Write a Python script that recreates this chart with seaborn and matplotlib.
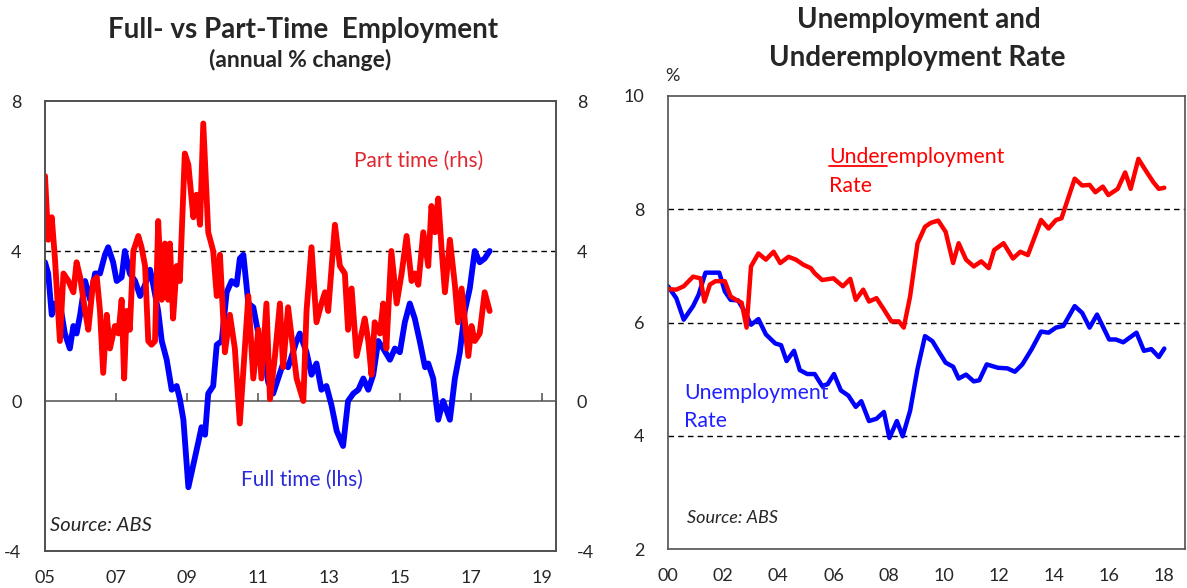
import matplotlib
matplotlib.use("Agg")
import matplotlib.pyplot as plt
from matplotlib.lines import Line2D
import seaborn as sns

# ---- left chart: full- vs part-time employment, annual % change ----
ft_years = [2005.00, 2005.09, 2005.19, 2005.28, 2005.42, 2005.56, 2005.70, 2005.80, 2005.89, 2005.99,
            2006.13, 2006.27, 2006.41, 2006.55, 2006.69, 2006.78, 2006.92, 2007.02, 2007.16, 2007.25,
            2007.39, 2007.54, 2007.68, 2007.82, 2007.96, 2008.05, 2008.19, 2008.29, 2008.43, 2008.57,
            2008.71, 2008.80, 2008.90, 2009.04, 2009.18, 2009.32, 2009.41, 2009.51, 2009.60, 2009.74,
            2009.84, 2009.98, 2010.12, 2010.26, 2010.40, 2010.49, 2010.59, 2010.73, 2010.87, 2011.01,
            2011.15, 2011.29, 2011.43, 2011.57, 2011.71, 2011.85, 2012.09, 2012.18, 2012.37, 2012.51,
            2012.65, 2012.79, 2012.93, 2013.07, 2013.22, 2013.40, 2013.54, 2013.69, 2013.83, 2013.97,
            2014.11, 2014.25, 2014.39, 2014.53, 2014.72, 2014.86, 2015.00, 2015.14, 2015.28, 2015.42,
            2015.56, 2015.71, 2015.80, 2015.94, 2016.08, 2016.22, 2016.41, 2016.55, 2016.69, 2016.83,
            2016.97, 2017.11, 2017.25, 2017.39, 2017.53]
ft_change = [3.7, 3.4, 2.3, 2.6, 2.6, 1.8, 1.4, 2.0, 1.8, 2.3,
             3.2, 2.7, 3.4, 3.4, 3.9, 4.1, 3.7, 3.2, 3.3, 4.0,
             3.4, 3.2, 2.8, 3.1, 3.5, 3.1, 2.4, 1.6, 1.1, 0.3,
             0.4, 0.05, -0.5, -2.3, -1.7, -1.1, -0.7, -0.9, 0.2, 0.4,
             1.5, 1.6, 2.9, 3.2, 3.1, 3.8, 3.9, 2.6, 2.5, 1.8,
             1.4, 0.5, 0.2, 0.6, 1.0, 0.9, 1.6, 1.8, 1.3, 0.7,
             1.0, 0.3, 0.4, -0.1, -0.8, -1.2, 0.0, 0.2, 0.3, 0.6,
             0.3, 0.7, 1.6, 1.4, 1.1, 1.4, 1.3, 2.1, 2.6, 2.2,
             1.6, 0.9, 1.0, 0.6, -0.5, 0.0, -0.5, 0.6, 1.3, 2.4,
             3.0, 4.0, 3.7, 3.8, 4.0]

pt_years = [2005.00, 2005.09, 2005.19, 2005.28, 2005.42, 2005.52, 2005.66, 2005.80, 2005.89, 2005.99,
            2006.13, 2006.22, 2006.36, 2006.46, 2006.55, 2006.64, 2006.74, 2006.83, 2006.97, 2007.07,
            2007.16, 2007.23, 2007.30, 2007.39, 2007.49, 2007.63, 2007.72, 2007.82, 2007.91, 2008.00,
            2008.10, 2008.19, 2008.29, 2008.38, 2008.47, 2008.52, 2008.61, 2008.71, 2008.80, 2008.94,
            2009.04, 2009.18, 2009.27, 2009.37, 2009.46, 2009.60, 2009.74, 2009.84, 2009.93, 2010.07,
            2010.21, 2010.35, 2010.49, 2010.73, 2010.87, 2011.01, 2011.10, 2011.24, 2011.34, 2011.48,
            2011.62, 2011.71, 2011.85, 2012.09, 2012.28, 2012.37, 2012.51, 2012.65, 2012.79, 2012.89,
            2012.98, 2013.17, 2013.31, 2013.45, 2013.54, 2013.64, 2013.78, 2013.92, 2014.01, 2014.11,
            2014.20, 2014.29, 2014.44, 2014.53, 2014.62, 2014.76, 2014.91, 2015.05, 2015.19, 2015.33,
            2015.42, 2015.52, 2015.66, 2015.80, 2015.89, 2015.99, 2016.08, 2016.18, 2016.27, 2016.41,
            2016.55, 2016.64, 2016.74, 2016.93, 2017.02, 2017.11, 2017.25, 2017.39, 2017.53]
pt_change = [6.0, 4.3, 4.9, 3.8, 1.6, 3.4, 3.2, 2.9, 3.7, 3.3,
             2.4, 1.9, 3.2, 3.3, 2.4, 0.75, 2.3, 1.4, 2.0, 1.8,
             2.7, 0.6, 2.4, 1.9, 4.0, 4.4, 4.1, 3.6, 1.6, 1.5,
             1.6, 4.8, 2.7, 4.2, 2.7, 4.2, 2.2, 3.6, 3.2, 6.6,
             6.3, 4.9, 5.5, 4.7, 7.4, 4.5, 4.0, 2.8, 3.9, 1.3,
             2.3, 1.4, -0.6, 2.8, 0.6, 1.9, 0.6, 2.6, 0.05, 1.2,
             2.6, 0.9, 2.5, 0.6, 0.0, 2.4, 4.1, 2.1, 2.6, 2.9,
             2.4, 4.7, 3.6, 3.4, 1.9, 3.0, 1.2, 1.8, 2.2, 1.6,
             0.7, 2.1, 1.8, 2.6, 1.4, 4.0, 2.6, 3.4, 4.4, 3.2,
             3.4, 3.1, 4.5, 3.6, 5.2, 4.5, 5.4, 4.0, 2.9, 4.3,
             3.1, 2.1, 3.0, 1.2, 2.0, 1.6, 1.8, 2.9, 2.4]

left_xticks = [2005, 2007, 2009, 2011, 2013, 2015, 2017, 2019]
left_xlabels = ["05", "07", "09", "11", "13", "15", "17", "19"]
left_yticks = [-4, 0, 4, 8]

# ---- right chart: unemployment and underemployment rate, % ----
under_years = [2000.00, 2000.30, 2000.57, 2000.91, 2001.18, 2001.32, 2001.52, 2001.72, 2002.06, 2002.27,
               2002.47, 2002.67, 2002.85, 2003.01, 2003.28, 2003.55, 2003.83, 2004.07, 2004.37, 2004.64,
               2004.91, 2005.18, 2005.32, 2005.59, 2006.00, 2006.34, 2006.61, 2006.81, 2007.08, 2007.29,
               2007.56, 2007.83, 2008.10, 2008.37, 2008.55, 2008.78, 2009.05, 2009.32, 2009.53, 2009.80,
               2010.07, 2010.34, 2010.54, 2010.81, 2011.09, 2011.36, 2011.63, 2011.83, 2012.17, 2012.51,
               2012.78, 2013.05, 2013.53, 2013.80, 2014.07, 2014.27, 2014.75, 2015.02, 2015.29, 2015.50,
               2015.77, 2015.97, 2016.31, 2016.58, 2016.78, 2017.06, 2017.33, 2017.60, 2017.80, 2018.00]
under_rate = [6.59, 6.58, 6.64, 6.81, 6.78, 6.37, 6.67, 6.73, 6.73, 6.46,
              6.40, 6.35, 5.91, 6.99, 7.22, 7.11, 7.25, 7.05, 7.16, 7.11,
              7.02, 6.96, 6.87, 6.75, 6.78, 6.64, 6.77, 6.40, 6.58, 6.37,
              6.43, 6.23, 6.02, 6.02, 5.91, 6.46, 7.40, 7.69, 7.76, 7.80,
              7.60, 7.05, 7.40, 7.11, 6.99, 7.08, 6.96, 7.28, 7.40, 7.13,
              7.25, 7.19, 7.81, 7.66, 7.81, 7.84, 8.54, 8.42, 8.43, 8.30,
              8.40, 8.25, 8.36, 8.65, 8.36, 8.89, 8.68, 8.48, 8.36, 8.38]

unemp_years = [2000.00, 2000.30, 2000.57, 2000.91, 2001.11, 2001.36, 2001.66, 2001.86, 2002.06, 2002.27,
               2002.54, 2002.81, 2003.01, 2003.28, 2003.55, 2003.89, 2004.10, 2004.30, 2004.57, 2004.78,
               2005.05, 2005.32, 2005.59, 2005.79, 2006.02, 2006.27, 2006.54, 2006.81, 2007.01, 2007.29,
               2007.56, 2007.83, 2008.03, 2008.30, 2008.51, 2008.78, 2009.05, 2009.32, 2009.59, 2009.80,
               2010.07, 2010.34, 2010.54, 2010.81, 2011.09, 2011.29, 2011.56, 2011.97, 2012.31, 2012.58,
               2012.85, 2013.19, 2013.53, 2013.80, 2014.07, 2014.34, 2014.75, 2015.02, 2015.29, 2015.56,
               2016.00, 2016.24, 2016.51, 2016.99, 2017.26, 2017.53, 2017.80, 2018.00]
unemp_rate = [6.64, 6.43, 6.05, 6.29, 6.49, 6.88, 6.88, 6.88, 6.55, 6.40,
              6.39, 6.17, 5.96, 6.06, 5.79, 5.63, 5.60, 5.32, 5.50, 5.16,
              5.09, 5.09, 4.88, 4.91, 5.09, 4.80, 4.71, 4.51, 4.61, 4.26,
              4.30, 4.42, 3.96, 4.26, 3.99, 4.44, 5.18, 5.76, 5.67, 5.50,
              5.29, 5.22, 5.01, 5.08, 4.96, 4.98, 5.26, 5.20, 5.19, 5.13,
              5.26, 5.53, 5.84, 5.82, 5.91, 5.94, 6.29, 6.17, 5.91, 6.14,
              5.70, 5.70, 5.65, 5.82, 5.50, 5.53, 5.39, 5.54]

right_xticks = [2000, 2002, 2004, 2006, 2008, 2010, 2012, 2014, 2016, 2018]
right_xlabels = ["00", "02", "04", "06", "08", "10", "12", "14", "16", "18"]
right_yticks = [2, 4, 6, 8, 10]

sns.set_style("white")
plt.rcParams["font.family"] = ["Lato", "DejaVu Sans"]
plt.rcParams["axes.unicode_minus"] = False

RED = "#ff0000"
BLUE = "#0000ff"
FRAME = "#505050"
TICKFONT = 13

W, H = 1187, 588
fig = plt.figure(figsize=(W / 100, H / 100), dpi=100)


def frame(ax):
    for s in ax.spines.values():
        s.set_visible(True)
        s.set_color(FRAME)
        s.set_linewidth(1.2)


# ---------------- left panel ----------------
ax1 = fig.add_axes([45 / W, (H - 551) / H, (556 - 45) / W, (551 - 101) / H])
ax1r = ax1.twinx()

sns.lineplot(x=ft_years, y=ft_change, ax=ax1, color=BLUE, linewidth=4.2)
sns.lineplot(x=pt_years, y=pt_change, ax=ax1r, color=RED, linewidth=4.2)

for a in (ax1, ax1r):
    a.set_xlim(2005, 2019.4)
    a.set_ylim(-4, 8)
    a.set_yticks(left_yticks)
    a.set_ylabel("")
    frame(a)
ax1.set_xticks(left_xticks)
ax1.set_xticklabels(left_xlabels)
ax1.tick_params(axis="x", length=0, pad=14, labelsize=TICKFONT)
ax1.tick_params(axis="y", length=0, pad=17, labelsize=TICKFONT)
ax1r.tick_params(axis="y", length=0, pad=15, labelsize=TICKFONT)
ax1.axhline(0, color=FRAME, linewidth=1.1, zorder=1)
ax1.axhline(4, color="black", linewidth=1.0, linestyle=(0, (4, 3)), zorder=1)

# tick marks sitting on the zero line
zero_axis = ax1.secondary_xaxis(1 / 3)
zero_axis.set_xticks(left_xticks)
zero_axis.tick_params(axis="x", direction="in", length=6, width=1.1, color=FRAME, labelbottom=False, labeltop=False)
zero_axis.spines["bottom"].set_visible(False)
zero_axis.spines["top"].set_visible(False)

ax1r.text(0.732, 0.866, "Part time (rhs)", transform=ax1.transAxes, color="#e0262e",
          fontsize=15, ha="center", va="center")
ax1r.text(0.502, 0.158, "Full time (lhs)", transform=ax1.transAxes, color="#2a2ad8",
          fontsize=15, ha="center", va="center")
ax1r.text(0.01, 0.056, "Source: ABS", transform=ax1.transAxes, fontsize=14.5,
          style="italic", ha="left", va="center")

fig.text(303 / W, 1 - 30 / H, "Full- vs Part-Time  Employment", ha="center", va="center",
         fontsize=20, fontweight="bold")
fig.text(300 / W, 1 - 60 / H, "(annual % change)", ha="center", va="center",
         fontsize=16.5, fontweight="bold")

# ---------------- right panel ----------------
ax2 = fig.add_axes([668 / W, (H - 549) / H, (1185 - 668) / W, (549 - 96) / H])
sns.lineplot(x=unemp_years, y=unemp_rate, ax=ax2, color=BLUE, linewidth=3.2)
sns.lineplot(x=under_years, y=under_rate, ax=ax2, color=RED, linewidth=3.2)
ax2.set_xlim(2000, 2018.75)
ax2.set_ylim(2, 10)
ax2.set_xticks(right_xticks)
ax2.set_xticklabels(right_xlabels)
ax2.set_yticks(right_yticks)
ax2.tick_params(axis="x", direction="in", length=6, width=1.1, color=FRAME, pad=14, labelsize=TICKFONT)
ax2.tick_params(axis="y", length=0, pad=17, labelsize=TICKFONT)
for lvl in (4, 6, 8):
    ax2.axhline(lvl, color="black", linewidth=1.0, linestyle=(0, (4, 3)), zorder=1)
frame(ax2)

ax2.text(0.311, 0.865, "Underemployment", transform=ax2.transAxes, color=RED,
         fontsize=15.3, ha="left", va="center")
ax2.text(0.311, 0.801, "Rate", transform=ax2.transAxes, color=RED,
         fontsize=15.3, ha="left", va="center")
under_part = ax2.text(0.311, 0.865, "Under", transform=ax2.transAxes, color=RED,
                      fontsize=15.3, ha="left", va="center", alpha=0)
ax2.text(0.031, 0.344, "Unemployment", transform=ax2.transAxes, color="#2020ff",
         fontsize=15.3, ha="left", va="center")
ax2.text(0.031, 0.283, "Rate", transform=ax2.transAxes, color="#2020ff",
         fontsize=15.3, ha="left", va="center")
ax2.text(0.037, 0.068, "Source: ABS", transform=ax2.transAxes, fontsize=13,
         style="italic", ha="left", va="center")

fig.text(672 / W, 1 - 76 / H, "%", ha="center", va="center", fontsize=TICKFONT)
fig.text(919 / W, 1 - 20 / H, "Unemployment and", ha="center", va="center",
         fontsize=20, fontweight="bold")
fig.text(917 / W, 1 - 58 / H, "Underemployment Rate", ha="center", va="center",
         fontsize=20, fontweight="bold")

# underline the "Under" part of the label
fig.canvas.draw()
bb = under_part.get_window_extent()
fig.add_artist(Line2D([bb.x0, bb.x1], [bb.y0 + 1, bb.y0 + 1], transform=None,
                      color=RED, linewidth=1.3))

fig.savefig("out.png", dpi=100)
